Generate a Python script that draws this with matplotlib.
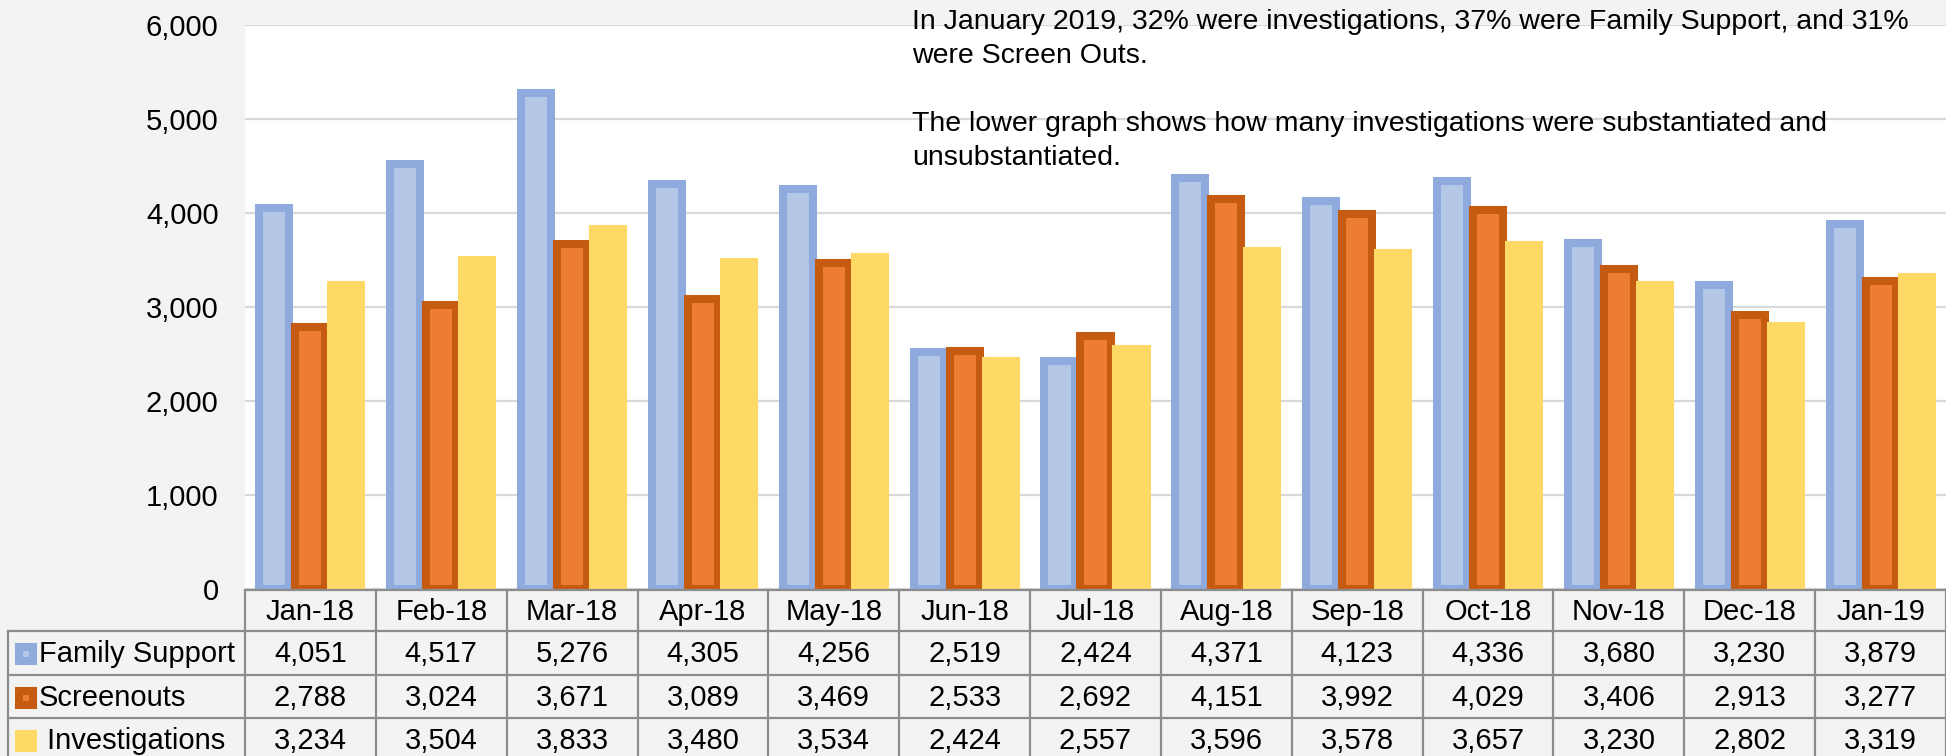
import matplotlib
matplotlib.use("Agg")
import matplotlib.pyplot as plt
from matplotlib.transforms import blended_transform_factory
import numpy as np

months = ["Jan-18", "Feb-18", "Mar-18", "Apr-18", "May-18", "Jun-18", "Jul-18",
          "Aug-18", "Sep-18", "Oct-18", "Nov-18", "Dec-18", "Jan-19"]
family_support = [4051, 4517, 5276, 4305, 4256, 2519, 2424, 4371, 4123, 4336, 3680, 3230, 3879]
screenouts = [2788, 3024, 3671, 3089, 3469, 2533, 2692, 4151, 3992, 4029, 3406, 2913, 3277]
investigations = [3234, 3504, 3833, 3480, 3534, 2424, 2557, 3596, 3578, 3657, 3230, 2802, 3319]
series_names = ["Family Support", "Screenouts", " Investigations"]
series_values = [family_support, screenouts, investigations]
fills = ["#B4C7E7", "#ED7D31", "#FFD966"]
edges = ["#8FAADC", "#C55A11", "#FFD966"]

note = ("In January 2019, 32% were investigations, 37% were Family Support, and 31%\n"
        "were Screen Outs.\n\n"
        "The lower graph shows how many investigations were substantiated and\n"
        "unsubstantiated.")

plt.rcParams['font.family'] = ['Liberation Sans', 'DejaVu Sans']
FS = 21

W, H = 1946, 756
fig = plt.figure(figsize=(W / 100, H / 100), dpi=100, facecolor="#f3f3f3")

# main bar axes (pixel layout: x 245..1946, y 25..589)
ax = fig.add_axes([245 / W, (H - 589) / H, (W - 245) / W, 564 / H])
ax.set_facecolor("white")
x = np.arange(len(months))
offsets = [-0.275, 0, 0.275]
for vals, off, fc, ec in zip(series_values, offsets, fills, edges):
    ax.bar(x + off, vals, width=0.23, color=fc, edgecolor=ec, linewidth=5.8, zorder=3)

ax.set_xlim(-0.5, len(months) - 0.5)
ax.set_ylim(0, 6000)
ax.set_yticks(np.arange(0, 6001, 1000))
ax.set_yticklabels([f"{v:,}" for v in range(0, 6001, 1000)])
ax.tick_params(axis="y", length=0, pad=19, labelsize=FS)
ax.set_xticks([])
ax.grid(axis="y", color="#d9d9d9", linewidth=1.6, zorder=0)
for s in ax.spines.values():
    s.set_visible(False)

# overlay in pixel coords for the data table and note
ov = fig.add_axes([0, 0, 1, 1], facecolor="none")
ov.set_xlim(0, W)
ov.set_ylim(H, 0)
ov.axis("off")
tr = blended_transform_factory(ax.transData, ov.transData)

line_c = "#8c8c8c"
lw = 1.6
rows_y = [590, 631, 675, 718, 762]
n = len(months)
# horizontal lines
ov.plot([-0.5, n - 0.5], [rows_y[0], rows_y[0]], transform=tr, color=line_c, lw=lw, clip_on=False)
for yy in rows_y[1:4]:
    ov.plot([8, W], [yy, yy], color=line_c, lw=lw, clip_on=False)
# vertical lines
for i in range(n + 1):
    ov.plot([i - 0.5, i - 0.5], [rows_y[0], H], transform=tr, color=line_c, lw=lw, clip_on=False)
ov.plot([8, 8], [rows_y[1], H], color=line_c, lw=lw, clip_on=False)

# header labels
for i, m in enumerate(months):
    ov.text(i, (rows_y[0] + rows_y[1]) / 2 + 1, m, transform=tr, ha="center", va="center",
            fontsize=FS, color="black")
# data rows
for r, (name, vals, fc, ec) in enumerate(zip(series_names, series_values, fills, edges)):
    yc = (rows_y[r + 1] + rows_y[r + 2]) / 2 + 1
    ov.plot([26], [yc], marker="s", markersize=10, markerfacecolor=fc, markeredgecolor=ec,
            markeredgewidth=5.8, clip_on=False)
    ov.text(39, yc, name, ha="left", va="center", fontsize=FS, color="black")
    for i, v in enumerate(vals):
        ov.text(i, yc, f"{v:,}", transform=tr, ha="center", va="center", fontsize=FS, color="black")

# note text
ov.text(912, 9, note, ha="left", va="top", fontsize=20.5, linespacing=1.4)

fig.savefig("out.png", dpi=100, facecolor=fig.get_facecolor())
